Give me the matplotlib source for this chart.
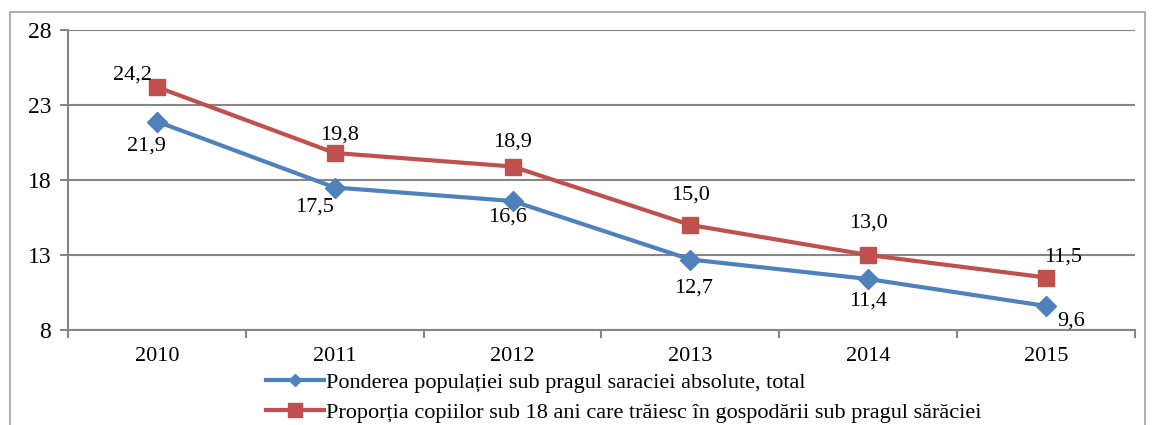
import matplotlib.pyplot as plt
from matplotlib.patches import Rectangle
from matplotlib.lines import Line2D

# Data
years = ['2010', '2011', '2012', '2013', '2014', '2015']
total = [21.9, 17.5, 16.6, 12.7, 11.4, 9.6]
copii = [24.2, 19.8, 18.9, 15.0, 13.0, 11.5]
label_total = 'Ponderea populației sub pragul saraciei absolute, total'
label_copii = 'Proporția copiilor sub 18 ani care trăiesc în gospodării sub pragul sărăciei'
yticks = [8, 13, 18, 23, 28]

# label offsets in pixels (dx, dy)
off_total = [(-10, -25), (-20, -20), (-5, -16), (3, -29), (0, -22), (25, -15)]
off_copii = [(-24, 12), (5, 18), (0, 24), (0, 30), (0, 32), (17, 20)]

blue = '#4F81BD'
red = '#C0504D'
grey = '#868686'

plt.rcParams['font.family'] = 'Liberation Serif'

fig = plt.figure(figsize=(11.54, 4.25), dpi=100)
ax = fig.add_axes([68/1154, 1-330/425, (1135-68)/1154, 300/425])

x = range(len(years))
ax.plot(x, total, color=blue, lw=3, marker='D', ms=10)
ax.plot(x, copii, color=red, lw=3, marker='s', ms=12)

px = 0.72  # pixels -> points
for i in x:
    ax.annotate(f'{total[i]:.1f}'.replace('.', ','), (i, total[i]),
                xytext=(off_total[i][0]*px, off_total[i][1]*px), textcoords='offset points',
                ha='center', va='center', fontsize=16)
    ax.annotate(f'{copii[i]:.1f}'.replace('.', ','), (i, copii[i]),
                xytext=(off_copii[i][0]*px, off_copii[i][1]*px), textcoords='offset points',
                ha='center', va='center', fontsize=16)

ax.set_xlim(-0.5, len(years)-0.5)
ax.set_ylim(8, 28)
ax.set_yticks(yticks)
ax.set_xticks([i - 0.5 for i in range(len(years)+1)])
ax.set_xticklabels([''] * (len(years)+1))
ax.set_xticks(list(x), minor=True)
ax.set_xticklabels(years, minor=True, fontsize=16)
ax.tick_params(axis='x', which='minor', length=0, pad=12)
ax.tick_params(axis='x', which='major', length=6, color=grey, width=1.5)
ax.tick_params(axis='y', length=6, color=grey, width=1.5, labelsize=17, pad=6)
ax.yaxis.grid(True, color=grey, lw=1.5)
ax.set_axisbelow(True)
for s in ['top', 'right']:
    ax.spines[s].set_visible(False)
for s in ['left', 'bottom']:
    ax.spines[s].set_color(grey)
    ax.spines[s].set_linewidth(1.5)

handles = [Line2D([], [], color=blue, lw=3, marker='D', ms=6),
           Line2D([], [], color=red, lw=3, marker='s', ms=10)]
fig.legend(handles, [label_total, label_copii], loc='upper left',
           bbox_to_anchor=(266/1154, 1-372/425), frameon=False,
           fontsize=16, handlelength=2.6, handletextpad=0.1, labelspacing=0.45,
           borderaxespad=0, borderpad=0)

fig.patches.append(Rectangle((10/1154, -0.1), 1135/1154, 1.1 - 12/425, transform=fig.transFigure,
                             fill=False, edgecolor='#A0A0A0', lw=1.2))

fig.savefig('out.png', dpi=100)
